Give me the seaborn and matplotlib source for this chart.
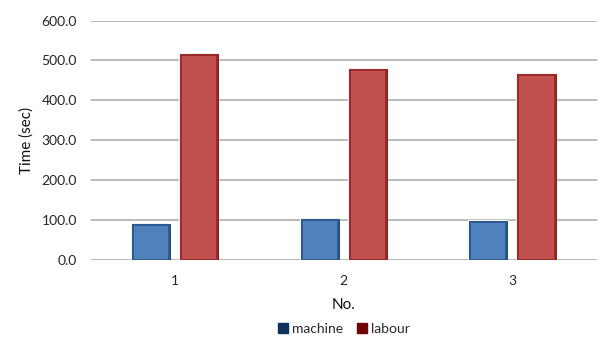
import matplotlib
matplotlib.use("Agg")
import matplotlib.pyplot as plt
import matplotlib.patheffects as pe
from matplotlib.patches import Patch
import seaborn as sns
import pandas as pd

# Run numbers and measured times (seconds)
runs = ["1", "2", "3"]
machine = [86.0, 100.5, 94.5]
labour = [514.0, 475.0, 463.0]
series = ["machine", "labour"]
y_ticks = [0, 100, 200, 300, 400, 500, 600]

df = pd.DataFrame({
    "No.": runs * 2,
    "Time (sec)": machine + labour,
    "series": [series[0]] * len(runs) + [series[1]] * len(runs),
})

fills = {"machine": "#4F81BD", "labour": "#C0504D"}
mids = {"machine": "#2F5A8F", "labour": "#9E2A2A"}
edges = {"machine": "#10325E", "labour": "#6E0606"}

sns.set_theme(style="white")
plt.rcParams["font.family"] = ["Lato", "DejaVu Sans"]

fig = plt.figure(figsize=(5.98, 3.38), dpi=100)
ax = fig.add_axes([0.152, 0.232, 0.846, 0.707])

sns.barplot(data=df, x="No.", y="Time (sec)", hue="series", order=runs,
            hue_order=series, palette=fills, saturation=1, width=0.57,
            gap=0.25, legend=False, ax=ax, zorder=3)

# Dark rim shading into the fill, with a thin white halo around each bar
for container, name in zip(ax.containers, series):
    for bar in container:
        bar.set_edgecolor(mids[name])
        bar.set_linewidth(1.4)
        bar.set_path_effects([
            pe.Stroke(linewidth=3.2, foreground="#F4F4F4"),
            pe.Stroke(linewidth=2.0, foreground=edges[name]),
            pe.Normal(),
        ])

ax.set_ylim(0, 600)
ax.set_yticks(y_ticks)
ax.set_yticklabels([f"{v:.1f}" for v in y_ticks])
ax.yaxis.grid(True, color="#B3B3B3", linewidth=1.3, zorder=0)
ax.set_axisbelow(True)
for s in ax.spines.values():
    s.set_visible(False)
ax.tick_params(axis="y", length=0, pad=10, labelsize=10, labelcolor="#262626")
ax.tick_params(axis="x", length=0, pad=11, labelsize=10, labelcolor="#262626")
ax.set_xlabel("No.", fontsize=11, color="#111111", labelpad=8)
ax.set_ylabel("Time (sec)", fontsize=11, color="#111111", labelpad=6)

handles = [Patch(facecolor=edges[n], edgecolor=edges[n]) for n in series]
fig.legend(handles, series, loc="center", bbox_to_anchor=(0.575, 0.028),
           ncol=2, frameon=False, fontsize=10, handlelength=0.7,
           handleheight=0.7, handletextpad=0.3, columnspacing=1.0,
           labelcolor="#262626")

fig.savefig("out.png", dpi=100)
